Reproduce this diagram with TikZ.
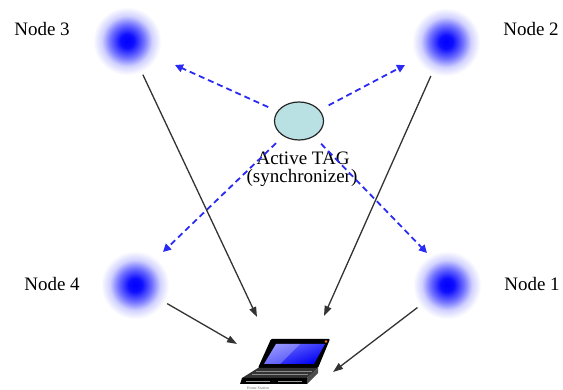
\documentclass[tikz,border=0pt]{standalone}
\usepackage{fontspec}
\setmainfont{Liberation Serif}
\usetikzlibrary{arrows.meta,shapes.geometric}

% soft radio glow for the anchor nodes
\pgfdeclareradialshading{glow}{\pgfpoint{0bp}{0bp}}{%
  color(0bp)=(blue); color(4.5bp)=(blue!95!white); color(11.5bp)=(blue!55!white);
  color(17bp)=(blue!18!white); color(23bp)=(white); color(50bp)=(white)}

\definecolor{tagfill}{HTML}{B9E1E4}
\definecolor{syncblue}{HTML}{2A2AF5}
\definecolor{linkgray}{HTML}{333333}

\tikzset{
  anchornode/.style={circle, minimum size=74pt, inner sep=0pt, shading=glow},
  label text/.style={font=\fontsize{19}{22}\selectfont, anchor=base, inner sep=0pt},
  tagnode/.style={ellipse, draw=black!85, line width=1.2pt, fill=tagfill,
    minimum width=49pt, minimum height=38pt, inner sep=0pt},
  syncarrow/.style={draw=syncblue, line width=1.8pt, dash pattern=on 6pt off 4pt,
    -{Triangle[length=8pt,width=8pt]}, shorten <=10pt},
  datalink/.style={draw=linkgray, line width=1.3pt, -{Triangle[length=10pt,width=7pt]}},
}

\begin{document}
\begin{tikzpicture}[x=1pt,y=-1pt]
\useasboundingbox (0,0) rectangle (563,390);

% anchor nodes
\node[anchornode] (n3) at (127,41) {};
\node[anchornode] (n2) at (446,42) {};
\node[anchornode] (n4) at (135,285) {};
\node[anchornode] (n1) at (447,285) {};

\node[label text] (l3) at (42,36) {Node 3};
\node[label text] (l2) at (531,36) {Node 2};
\node[label text] (l4) at (52,291) {Node 4};
\node[label text] (l1) at (532,291) {Node 1};

% synchronizer tag
\node[tagnode] (tag) at (299,121) {};
\node[label text] (tagname) at (303,165) {Active TAG};
\node[label text] (tagrole) at (302,183) {(synchronizer)};

% arrow tips near the anchors
\coordinate (s3) at (175,65);
\coordinate (s2) at (405,65);
\coordinate (s4) at (163,252);
\coordinate (s1) at (427,253);

\draw[syncarrow] (tag) -- (s3);
\draw[syncarrow] (tag) -- (s2);
\draw[syncarrow] (tag) -- (s4);
\draw[syncarrow] (tag) -- (s1);

% laptop (home station)
\coordinate (h3) at (257,317);
\coordinate (h2) at (324,316);
\coordinate (h4) at (237,344);
\coordinate (h1) at (333,372);

% lid
\fill[black, rounded corners=1pt] (271,339) -- (330,339) -- (318,368) -- (258,368) -- cycle;
\shade[top color=blue!55!white, bottom color=blue!95!black, shading angle=20]
  (276,344) -- (325,344) -- (314,364) -- (264,364) -- cycle;
\fill[white, opacity=0.25] (276,344) -- (300,344) -- (280,364) -- (264,364) -- cycle;
\fill[orange] (326,341.5) circle (1.3pt);
% base
\fill[black!80] (258,368) -- (318,368) -- (307,378) -- (242,378) -- cycle;
\draw[black!45, line width=0.6pt] (256,371) -- (312,371) (252,374.5) -- (308,374.5);
\fill[black] (242,378) -- (307,378) -- (307,384) -- (240,384) -- cycle;
\fill[black!70] (307,378) -- (318,368) -- (318,373) -- (307,384) -- cycle;
\draw[black!40, line width=0.5pt] (246,381) -- (270,381) (278,381) -- (302,381);
\node[font=\fontsize{4}{4}\selectfont, text=black!55, inner sep=0pt] (hs) at (258,388.5) {Home Station};

% data links to the home station
\draw[datalink] (n3) -- (h3);
\draw[datalink] (n2) -- (h2);
\draw[datalink] (n4) -- (h4);
\draw[datalink] (n1) -- (h1);
\end{tikzpicture}
\end{document}
